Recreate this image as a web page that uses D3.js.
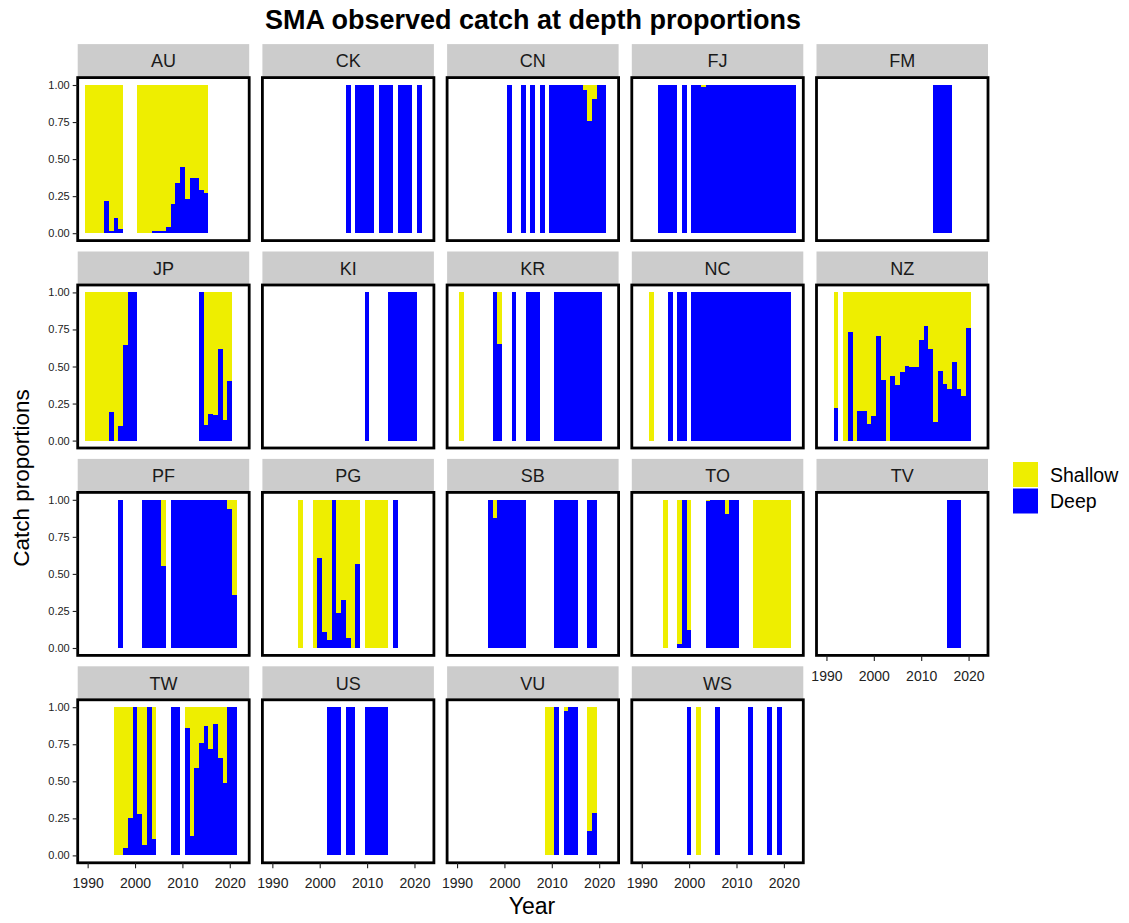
<!DOCTYPE html>
<html>
<head>
<meta charset="utf-8">
<script src="https://cdn.jsdelivr.net/npm/d3@7"></script>
<style>
  html, body { margin: 0; padding: 0; background: #ffffff; }
  svg { display: block; font-family: "Liberation Sans", Arial, sans-serif; }
</style>
</head>
<body>
<svg id="chart" width="1129" height="923"></svg>
<script>
// Deep-set share of observed SMA catch by flag and year; shallow share is the remainder.
const countries = ["AU","CK","CN","FJ","FM","JP","KI","KR","NC","NZ","PF","PG","SB","TO","TV","TW","US","VU","WS"];

const AU = [[1990,0],[1991,0],[1992,0],[1993,0],[1994,0.22],[1995,0.012],[1996,0.105],[1997,0.03],
  [2001,0],[2002,0],[2003,0],[2004,0.015],[2005,0.015],[2006,0.015],[2007,0.04],[2008,0.2],[2009,0.34],
  [2010,0.445],[2011,0.23],[2012,0.375],[2013,0.375],[2014,0.29],[2015,0.27]];
const CK = [[2006,1],[2008,1],[2009,1],[2010,1],[2011,1],[2013,1],[2014,1],[2015,1],[2017,1],[2018,1],[2019,1],[2021,1]];
const CN = [[2001,1],[2004,1],[2006,1],[2008,1],[2010,1],[2011,1],[2012,1],[2013,1],[2014,1],[2015,1],[2016,1],
  [2017,0.966],[2018,0.76],[2019,0.905],[2020,1],[2021,1]];
const FJ = [[1994,1],[1995,1],[1996,1],[1997,1],[1999,1],[2001,1],[2002,1],[2003,0.985],[2004,1],[2005,1],[2006,1],
  [2007,1],[2008,1],[2009,1],[2010,1],[2011,1],[2012,1],[2013,1],[2014,1],[2015,1],[2016,1],[2017,1],[2018,1],
  [2019,1],[2020,1],[2021,1],[2022,1]];
const FM = [[2013,1],[2014,1],[2015,1],[2016,1]];
const JP = [[1990,0],[1991,0],[1992,0],[1993,0],[1994,0],[1995,0.19],[1996,0],[1997,0.1],[1998,0.645],[1999,1],[2000,1],
  [2014,1],[2015,0.105],[2016,0.18],[2017,0.17],[2018,0.62],[2019,0.14],[2020,0.4]];
const KI = [[2010,1],[2015,1],[2016,1],[2017,1],[2018,1],[2019,1],[2020,1]];
const KR = [[1991,0],[1998,1],[1999,0.655],[2002,1],[2005,1],[2006,1],[2007,1],[2011,1],[2012,1],[2013,1],[2014,1],
  [2015,1],[2016,1],[2017,1],[2018,1],[2019,1],[2020,1]];
const NC = [[1992,0],[1996,1],[1998,1],[1999,1],[2001,1],[2002,1],[2003,1],[2004,1],[2005,1],[2006,1],[2007,1],[2008,1],
  [2009,1],[2010,1],[2011,1],[2012,1],[2013,1],[2014,1],[2015,1],[2016,1],[2017,1],[2018,1],[2019,1],[2020,1],[2021,1]];
const NZ = [[1992,0.22],[1994,0],[1995,0.73],[1996,0],[1997,0.2],[1998,0.2],[1999,0.115],[2000,0.167],[2001,0.705],
  [2002,0.41],[2003,0],[2004,0.437],[2005,0.378],[2006,0.464],[2007,0.505],[2008,0.5],[2009,0.5],[2010,0.678],
  [2011,0.775],[2012,0.617],[2013,0.124],[2014,0.47],[2015,0.385],[2016,0.35],[2017,0.53],[2018,0.35],[2019,0.3],[2020,0.757]];
const PF = [[1997,1],[2002,1],[2003,1],[2004,1],[2005,1],[2006,0.556],[2008,1],[2009,1],[2010,1],[2011,1],[2012,1],
  [2013,1],[2014,1],[2015,1],[2016,1],[2017,1],[2018,1],[2019,1],[2020,0.937],[2021,0.358]];
const PG = [[1996,0],[1999,0],[2000,0.61],[2001,0.11],[2002,0.052],[2003,1],[2004,0.234],[2005,0.322],[2006,0.07],
  [2007,0],[2008,0.565],[2010,0],[2011,0],[2012,0],[2013,0],[2014,0],[2016,1]];
const SB = [[1997,1],[1998,0.88],[1999,1],[2000,1],[2001,1],[2002,1],[2003,1],[2004,1],[2011,1],[2012,1],[2013,1],
  [2014,1],[2015,1],[2018,1],[2019,1]];
const TO = [[1995,0],[1998,0.03],[1999,1],[2000,0.124],[2004,0.99],[2005,1],[2006,1],[2007,1],[2008,0.905],[2009,1],
  [2010,1],[2014,0],[2015,0],[2016,0],[2017,0],[2018,0],[2019,0],[2020,0],[2021,0]];
const TV = [[2016,1],[2017,1],[2018,1]];
const TW = [[1996,0],[1997,0],[1998,0.05],[1999,0.25],[2000,1],[2001,0.28],[2002,0.07],[2003,1],[2004,0.11],
  [2008,1],[2009,1],[2011,0.858],[2012,0.129],[2013,0.587],[2014,0.76],[2015,0.874],[2016,0.718],[2017,0.887],
  [2018,0.66],[2019,0.49],[2020,1],[2021,1]];
const US = [[2002,1],[2003,1],[2004,1],[2006,1],[2007,1],[2010,1],[2011,1],[2012,1],[2013,1],[2014,1]];
const VU = [[2009,0],[2010,0],[2011,1],[2013,0.973],[2014,1],[2015,1],[2018,0.162],[2019,0.284]];
const WS = [[2000,1],[2002,0],[2006,1],[2013,1],[2017,1],[2019,1]];

const series = {AU, CK, CN, FJ, FM, JP, KI, KR, NC, NZ, PF, PG, SB, TO, TV, TW, US, VU, WS};

const depthLevels = ["Shallow", "Deep"];
const depthColours = ["#EEEE00", "#0000FF"];
const yTicks = [0, 0.25, 0.5, 0.75, 1];
const yTickLabels = ["0.00", "0.25", "0.50", "0.75", "1.00"];
const xTicks = [1990, 2000, 2010, 2020];

const titleText = "SMA observed catch at depth proportions";
const xTitle = "Year";
const yTitle = "Catch proportions";

// ---- layout ----
const svg = d3.select("#chart");
const NCOL = 5;
const PW = 171.5, PH = 163;
const left0 = 77.7, top0 = 77.6;
const colStep = 184.7, rowStep = 207.4;
const STRIP_H = 33.5;

const x = d3.scaleLinear().domain([1987.9, 2024.1]).range([0, PW]);
const y = d3.scaleLinear().domain([-0.05, 1.05]).range([PH, 0]);
const colour = d3.scaleOrdinal().domain(depthLevels).range(depthColours);

const nRows = Math.ceil(countries.length / NCOL);

countries.forEach((code, i) => {
  const col = i % NCOL, row = Math.floor(i / NCOL);
  const px = left0 + col * colStep, py = top0 + row * rowStep;
  const g = svg.append("g").attr("transform", `translate(${px},${py})`);

  // strip
  g.append("rect").attr("x", 0).attr("y", -STRIP_H).attr("width", PW).attr("height", STRIP_H)
    .attr("fill", "#CCCCCC");
  g.append("text").attr("x", PW / 2).attr("y", -STRIP_H / 2).attr("dy", "0.36em")
    .attr("text-anchor", "middle").attr("font-size", 18).attr("fill", "#1a1a1a").text(code);

  // stacked bars: deep at the bottom, shallow on top
  const rows = series[code].map(([yr, deep]) => ({year: yr, Deep: deep, Shallow: 1 - deep}));
  const stacked = d3.stack().keys(["Deep", "Shallow"])(rows);
  g.append("g").selectAll("g").data(stacked).join("g")
    .attr("fill", d => colour(d.key))
    .selectAll("rect").data(d => d).join("rect")
    .attr("shape-rendering", "crispEdges")
    .attr("x", d => x(d.data.year - 0.5))
    .attr("width", d => x(d.data.year + 0.5) - x(d.data.year - 0.5))
    .attr("y", d => y(d[1]))
    .attr("height", d => Math.max(0, y(d[0]) - y(d[1])));

  // panel border
  g.append("rect").attr("x", 0).attr("y", 0).attr("width", PW).attr("height", PH)
    .attr("fill", "none").attr("stroke", "#000").attr("stroke-width", 2.8);

  // y axis on first column
  if (col === 0) {
    const ya = g.append("g").call(d3.axisLeft(y).tickValues(yTicks)
      .tickFormat((d, k) => yTickLabels[k]).tickSize(5).tickPadding(3));
    ya.select(".domain").remove();
    ya.selectAll("line").attr("stroke", "#222").attr("stroke-width", 1.1);
    ya.selectAll("text").attr("font-size", 11).attr("fill", "#222")
      .attr("font-family", "Liberation Sans, Arial, sans-serif");
  }
  // x axis on the lowest panel of each column
  const lowest = (row === nRows - 1) || (i + NCOL >= countries.length);
  if (lowest) {
    const xa = g.append("g").attr("transform", `translate(0,${PH})`)
      .call(d3.axisBottom(x).tickValues(xTicks).tickFormat(d3.format("d")).tickSize(5.5).tickPadding(10));
    xa.select(".domain").remove();
    xa.selectAll("line").attr("stroke", "#222").attr("stroke-width", 1.1);
    xa.selectAll("text").attr("font-size", 14).attr("fill", "#222")
      .attr("font-family", "Liberation Sans, Arial, sans-serif");
  }
});

// title and axis titles
svg.append("text").attr("x", 533).attr("y", 29).attr("text-anchor", "middle")
  .attr("font-size", 27).attr("font-weight", "bold").attr("fill", "#000").text(titleText);
svg.append("text").attr("x", 532).attr("y", 914).attr("text-anchor", "middle")
  .attr("font-size", 23).attr("fill", "#000").text(xTitle);
svg.append("text").attr("transform", "translate(29,478) rotate(-90)").attr("text-anchor", "middle")
  .attr("font-size", 22.5).attr("fill", "#000").text(yTitle);

// legend
const lg = svg.append("g").attr("transform", "translate(1013,462)");
depthLevels.forEach((lev, k) => {
  lg.append("rect").attr("x", 0).attr("y", k * 26.5).attr("width", 25).attr("height", 25)
    .attr("fill", colour(lev));
  lg.append("text").attr("x", 37).attr("y", k * 26.5 + 12.5).attr("dy", "0.36em")
    .attr("font-size", 19.5).attr("fill", "#000").text(lev);
});
</script>
</body>
</html>
